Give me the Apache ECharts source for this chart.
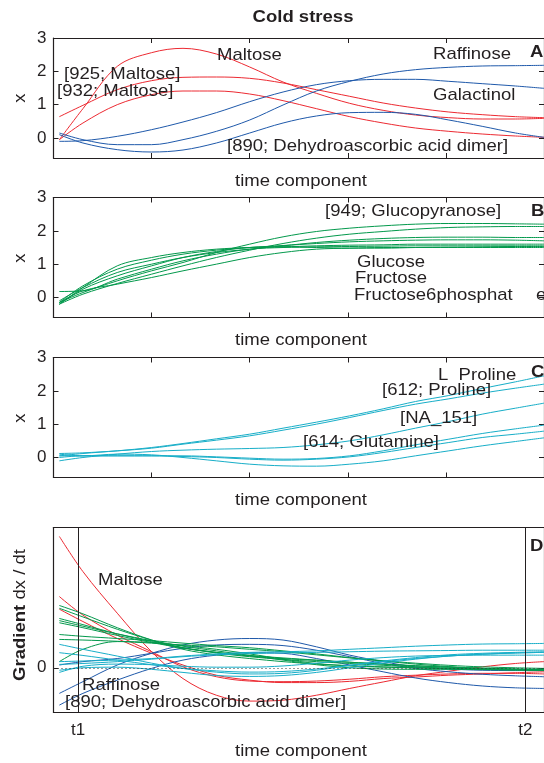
<!DOCTYPE html>
<html>
<head>
<meta charset="utf-8">
<script src="https://cdn.jsdelivr.net/npm/echarts@6/dist/echarts.min.js"></script>
<style>
  html, body { margin: 0; padding: 0; background: #fff; }
  #chart { width: 544px; height: 763px; }
</style>
</head>
<body>
<div id="chart"></div>
<script>
// ---------- DATA ----------
const T = [0.06, 0.3, 0.65, 1.0, 1.32, 1.66, 2.0, 2.34, 2.68, 3.02, 3.36, 3.69, 4.03, 4.37, 4.71, 5.0];

// Panel A (red = maltose group, blue = raffinose group)
const maltose     = [-0.05, 0.88, 2.15, 2.56, 2.69, 2.52, 2.13, 1.68, 1.34, 1.04, 0.83, 0.69, 0.61, 0.57, 0.57, 0.59];
const maltose925  = [0.64, 0.98, 1.45, 1.72, 1.82, 1.83, 1.79, 1.65, 1.45, 1.25, 1.05, 0.9, 0.78, 0.7, 0.64, 0.61];
const maltose932  = [-0.05, 0.45, 1.0, 1.3, 1.41, 1.41, 1.32, 1.12, 0.88, 0.64, 0.45, 0.3, 0.2, 0.12, 0.06, 0.02];
const raffinose   = [0.15, -0.05, -0.2, -0.2, -0.05, 0.2, 0.54, 0.99, 1.41, 1.7, 1.92, 2.05, 2.12, 2.16, 2.17, 2.18];
const galactinol  = [-0.1, -0.08, 0.05, 0.25, 0.48, 0.76, 1.09, 1.38, 1.6, 1.72, 1.76, 1.76, 1.7, 1.63, 1.56, 1.49];
const dha890      = [0.1, -0.15, -0.35, -0.42, -0.36, -0.15, 0.15, 0.45, 0.66, 0.76, 0.77, 0.71, 0.54, 0.35, 0.15, 0.02];

// Panel B (green)
const green1 = [-0.15, 0.15, 0.5, 0.8, 1.05, 1.35, 1.6, 1.82, 1.98, 2.08, 2.15, 2.2, 2.22, 2.22, 2.21, 2.2];
const green2 = [-0.2, 0.1, 0.42, 0.7, 0.95, 1.2, 1.42, 1.62, 1.78, 1.9, 1.98, 2.05, 2.1, 2.12, 2.13, 2.13];
const green3 = [-0.1, 0.3, 0.75, 1.0, 1.2, 1.35, 1.45, 1.55, 1.65, 1.72, 1.77, 1.8, 1.81, 1.81, 1.8, 1.8];
const green4 = [-0.15, 0.35, 0.85, 1.12, 1.3, 1.42, 1.5, 1.56, 1.62, 1.67, 1.7, 1.72, 1.73, 1.73, 1.72, 1.7];
const green5 = [-0.2, 0.3, 0.95, 1.2, 1.35, 1.45, 1.5, 1.52, 1.55, 1.57, 1.58, 1.6, 1.6, 1.6, 1.6, 1.6];
const green6 = [0.18, 0.2, 0.55, 0.85, 1.1, 1.3, 1.45, 1.5, 1.52, 1.53, 1.54, 1.55, 1.55, 1.55, 1.55, 1.55];
const green7 = [-0.2, 0.25, 0.65, 0.95, 1.2, 1.38, 1.5, 1.52, 1.5, 1.48, 1.48, 1.5, 1.51, 1.52, 1.53, 1.53];
const green8 = [-0.15, 0.2, 0.4, 0.6, 0.8, 1.0, 1.2, 1.35, 1.45, 1.48, 1.5, 1.5, 1.5, 1.5, 1.5, 1.5];

// Panel C (cyan)
const prolineL     = [0.05, 0.12, 0.2, 0.3, 0.42, 0.56, 0.7, 0.88, 1.06, 1.25, 1.46, 1.68, 1.86, 2.07, 2.27, 2.45];
const proline612   = [0.12, 0.14, 0.2, 0.28, 0.4, 0.52, 0.65, 0.82, 1.0, 1.2, 1.41, 1.6, 1.76, 1.93, 2.08, 2.2];
const na151        = [-0.1, 0.0, 0.1, 0.18, 0.22, 0.25, 0.27, 0.3, 0.38, 0.5, 0.68, 0.88, 1.08, 1.3, 1.48, 1.63];
const cyan4        = [0.1, 0.05, 0.05, 0.05, 0.05, 0.02, -0.02, -0.05, -0.03, 0.05, 0.2, 0.38, 0.55, 0.72, 0.86, 0.97];
const cyan5        = [0.0, 0.05, 0.05, 0.05, 0.03, 0.0, -0.05, -0.08, -0.05, 0.02, 0.15, 0.3, 0.45, 0.6, 0.7, 0.79];
const glutamine614 = [0.05, 0.05, 0.1, 0.08, 0.0, -0.1, -0.2, -0.25, -0.26, -0.2, -0.1, 0.05, 0.2, 0.35, 0.48, 0.59];

// Panel D (gradients)
const maltoseD    = [4.26, 3.12, 1.77, 0.52, -0.35, -0.89, -1.08, -1.05, -0.89, -0.67, -0.46, -0.26, -0.11, 0.03, 0.14, 0.2];
const maltose925D = [1.9, 1.5, 0.95, 0.47, 0.09, -0.24, -0.4, -0.48, -0.48, -0.44, -0.35, -0.3, -0.24, -0.2, -0.16, -0.13];
const maltose932D = [2.31, 1.71, 1.06, 0.52, 0.03, -0.29, -0.43, -0.45, -0.43, -0.37, -0.29, -0.24, -0.2, -0.18, -0.18, -0.2];
const raffinoseD  = [-0.83, -0.45, 0.09, 0.47, 0.74, 0.9, 0.95, 0.9, 0.68, 0.41, 0.2, 0.03, -0.04, -0.08, -0.09, -0.09];
const galactinolD = [0.09, 0.2, 0.3, 0.47, 0.63, 0.74, 0.76, 0.72, 0.57, 0.36, 0.14, -0.02, -0.13, -0.21, -0.26, -0.29];
const dha890D     = [-1.21, -0.83, -0.4, -0.02, 0.25, 0.41, 0.49, 0.47, 0.3, 0.09, -0.13, -0.33, -0.48, -0.59, -0.65, -0.67];
const green1D = [1.08, 1.02, 0.95, 0.88, 0.8, 0.72, 0.65, 0.55, 0.45, 0.33, 0.22, 0.12, 0.04, -0.02, -0.05, -0.07];
const green2D = [0.92, 0.9, 0.86, 0.8, 0.74, 0.68, 0.6, 0.52, 0.42, 0.32, 0.23, 0.15, 0.08, 0.03, 0.0, -0.02];
const green3D = [1.6, 1.4, 1.1, 0.85, 0.65, 0.5, 0.38, 0.3, 0.24, 0.18, 0.12, 0.07, 0.02, -0.02, -0.05, -0.07];
const green4D = [1.93, 1.65, 1.25, 0.9, 0.65, 0.48, 0.36, 0.27, 0.2, 0.14, 0.08, 0.03, -0.01, -0.04, -0.07, -0.09];
const green5D = [2.02, 1.75, 1.3, 0.9, 0.6, 0.42, 0.3, 0.2, 0.12, 0.07, 0.03, 0.0, -0.03, -0.05, -0.07, -0.08];
const green6D = [0.2, 0.6, 0.85, 0.82, 0.72, 0.6, 0.45, 0.28, 0.14, 0.06, 0.02, 0.0, -0.02, -0.03, -0.04, -0.05];
const green7D = [1.53, 1.35, 1.1, 0.88, 0.7, 0.55, 0.4, 0.25, 0.1, 0.0, -0.04, -0.05, -0.05, -0.06, -0.07, -0.08];
const green8D = [1.46, 1.3, 1.05, 0.82, 0.64, 0.5, 0.4, 0.32, 0.25, 0.18, 0.12, 0.06, 0.02, -0.02, -0.05, -0.06];
const cyan1D = [0.76, 0.6, 0.38, 0.15, -0.02, -0.14, -0.2, -0.18, -0.08, 0.08, 0.22, 0.33, 0.42, 0.47, 0.5, 0.52];
const cyan2D = [0.49, 0.4, 0.25, 0.1, -0.02, -0.1, -0.14, -0.12, -0.04, 0.08, 0.2, 0.3, 0.38, 0.44, 0.48, 0.5];
const cyan3D = [0.2, 0.22, 0.25, 0.3, 0.38, 0.45, 0.5, 0.52, 0.55, 0.6, 0.65, 0.7, 0.74, 0.77, 0.78, 0.79];
const cyan4D = [0.11, 0.14, 0.2, 0.28, 0.36, 0.42, 0.46, 0.48, 0.5, 0.52, 0.54, 0.55, 0.56, 0.57, 0.57, 0.57];
const cyan5D = [-0.08, 0.0, 0.02, -0.05, -0.15, -0.25, -0.28, -0.25, -0.15, 0.0, 0.15, 0.28, 0.38, 0.44, 0.48, 0.5];
const cyan6D = [-0.15, 0.05, 0.12, 0.1, 0.05, 0.02, 0.02, 0.06, 0.15, 0.25, 0.33, 0.38, 0.4, 0.41, 0.41, 0.41];

const yTicksX = [0, 1, 2, 3];
const yTicksD = [0];
const timeMarks = [0.25, 4.81];
const timeMarkLabels = ['t1', 't2'];

// ---------- STYLE / LAYOUT ----------
const RED = '#ec2a32', BLUE = '#1f59aa', GREEN = '#03994c', CYAN = '#17aec8';
const INK = '#231f20';
const FONT = '"Liberation Sans", Arial, Helvetica, sans-serif';
const FS = 17, SX = 1.09;

const panels = [
  { top: 38, height: 120, min: -0.6, max: 3, ticks: yTicksX },
  { top: 197.5, height: 120, min: -0.6, max: 3, ticks: yTicksX },
  { top: 357.5, height: 120, min: -0.6, max: 3, ticks: yTicksX },
  { top: 527.5, height: 185, min: -1.45, max: 4.55, ticks: yTicksD }
];

const axisLine = { show: true, lineStyle: { color: INK, width: 1.2 } };
const grids = [], xAxes = [], yAxes = [];
panels.forEach((p, i) => {
  grids.push({ left: 53.5, top: p.top, width: 492, height: p.height, containLabel: false });
  const isD = i === 3;
  xAxes.push({
    type: 'value', gridIndex: i, min: 0, max: 5, interval: 1, position: 'bottom',
    axisLine: { ...axisLine, onZero: false },
    axisTick: isD ? { show: false } : { show: true, inside: true, length: 5, lineStyle: { color: INK } },
    axisLabel: isD ? { show: true, customValues: timeMarks, formatter: v => timeMarkLabels[timeMarks.indexOf(v)] || '',
                       color: INK, fontSize: FS, fontFamily: FONT, margin: 9 } : { show: false },
    splitLine: { show: false }
  });
  xAxes.push({
    type: 'value', gridIndex: i, min: 0, max: 5, interval: 1, position: 'top',
    axisLine: { ...axisLine, onZero: false },
    axisTick: isD ? { show: false } : { show: true, inside: true, length: 5, lineStyle: { color: INK } },
    axisLabel: { show: false }, splitLine: { show: false }
  });
  yAxes.push({
    type: 'value', gridIndex: i, min: p.min, max: p.max, position: 'left',
    axisLine: { ...axisLine, onZero: false },
    axisTick: { show: true, inside: true, length: 5, customValues: p.ticks, lineStyle: { color: INK } },
    axisLabel: { show: true, customValues: p.ticks, color: INK, fontSize: FS, fontFamily: FONT, margin: 7 },
    splitLine: { show: false }
  });
  yAxes.push({
    type: 'value', gridIndex: i, min: p.min, max: p.max, position: 'right',
    axisLine: { ...axisLine, onZero: false },
    axisTick: { show: true, inside: true, length: 5, customValues: p.ticks, lineStyle: { color: INK } },
    axisLabel: { show: false }, splitLine: { show: false }
  });
});

const pair = vals => vals.map((v, k) => [T[k], v]);
const series = [];
function addLine(panel, vals, color, extra) {
  series.push(Object.assign({
    type: 'line', xAxisIndex: panel * 2, yAxisIndex: panel * 2,
    data: pair(vals), symbol: 'none', smooth: 0.35, silent: true, animation: false,
    lineStyle: { color: color, width: 1 }, z: 3
  }, extra || {}));
}
// Panel A
[maltose, maltose925, maltose932].forEach(v => addLine(0, v, RED));
[raffinose, galactinol, dha890].forEach(v => addLine(0, v, BLUE));
// Panel B
[green1, green2, green3, green4, green5, green6, green7, green8].forEach(v => addLine(1, v, GREEN));
// Panel C
[prolineL, proline612, na151, cyan4, cyan5, glutamine614].forEach(v => addLine(2, v, CYAN));
// Panel D
addLine(3, maltoseD, RED, {
  markLine: {
    silent: true, symbol: 'none', animation: false, label: { show: false },
    data: [
      { yAxis: 0, lineStyle: { color: '#333', width: 1, type: [1, 3] } },
      ...timeMarks.map(t => ({ xAxis: t, lineStyle: { color: INK, width: 1, type: 'solid' } }))
    ]
  }
});
[maltose925D, maltose932D].forEach(v => addLine(3, v, RED));
[raffinoseD, galactinolD, dha890D].forEach(v => addLine(3, v, BLUE));
[green1D, green2D, green3D, green4D, green5D, green6D, green7D, green8D].forEach(v => addLine(3, v, GREEN));
[cyan1D, cyan2D, cyan3D, cyan4D, cyan5D, cyan6D].forEach(v => addLine(3, v, CYAN));

// annotations: [text, x, y, align, bold]
const notes = [
  ['Cold stress', 303, 17, 'center', true],
  ['Maltose', 217, 55, 'left'],
  ['[925; Maltose]', 64, 74, 'left'],
  ['[932; Maltose]', 57, 91, 'left'],
  ['Raffinose', 433, 54, 'left'],
  ['Galactinol', 433, 95, 'left'],
  ['[890; Dehydroascorbic acid dimer]', 227, 146, 'left'],
  ['A', 530, 52, 'left', true],
  ['time component', 301, 181, 'center'],
  ['[949; Glucopyranose]', 325, 211, 'left'],
  ['B', 531, 211, 'left', true],
  ['Glucose', 357, 262, 'left'],
  ['Fructose', 355, 278, 'left'],
  ['Fructose6phosphat', 354, 295, 'left'],
  ['e', 536, 295, 'left'],
  ['time component', 301, 340, 'center'],
  ['L  Proline', 438, 375, 'left'],
  ['C', 531, 372, 'left', true],
  ['[612; Proline]', 382, 390, 'left'],
  ['[NA_151]', 400, 418, 'left'],
  ['[614; Glutamine]', 303, 442, 'left'],
  ['time component', 301, 500, 'center'],
  ['Maltose', 98, 580, 'left'],
  ['Raffinose', 82, 685, 'left'],
  ['[890; Dehydroascorbic acid dimer]', 65, 702, 'left'],
  ['D', 530, 546, 'left', true],
  ['time component', 301, 751, 'center']
];
const graphic = notes.map(n => ({
  type: 'text', x: n[1], y: n[2], scaleX: SX, z: 10, silent: true,
  style: {
    text: n[0], fill: INK, font: (n[4] ? 'bold ' : '') + FS + 'px ' + FONT,
    textAlign: n[3], align: n[3], textVerticalAlign: 'middle', verticalAlign: 'middle'
  }
}));
[98, 258, 418].forEach(y => graphic.push({
  type: 'text', x: 20, y: y, rotation: Math.PI / 2, scaleX: SX, z: 10, silent: true,
  style: { text: 'x', fill: INK, font: FS + 'px ' + FONT, textAlign: 'center', align: 'center',
           textVerticalAlign: 'middle', verticalAlign: 'middle' }
}));
graphic.push({
  type: 'text', x: 20, y: 615, rotation: Math.PI / 2, scaleX: SX, z: 10, silent: true,
  style: {
    text: '{b|Gradient} dx / dt', fill: INK, font: FS + 'px ' + FONT,
    textAlign: 'center', align: 'center', textVerticalAlign: 'middle', verticalAlign: 'middle',
    rich: { b: { fontWeight: 'bold', fontSize: FS, fontFamily: FONT, fill: INK } }
  }
});

const chart = echarts.init(document.getElementById('chart'), null, { renderer: 'canvas' });
chart.setOption({
  animation: false,
  backgroundColor: '#fff',
  grid: grids, xAxis: xAxes, yAxis: yAxes, series: series, graphic: graphic
});
</script>
</body>
</html>
